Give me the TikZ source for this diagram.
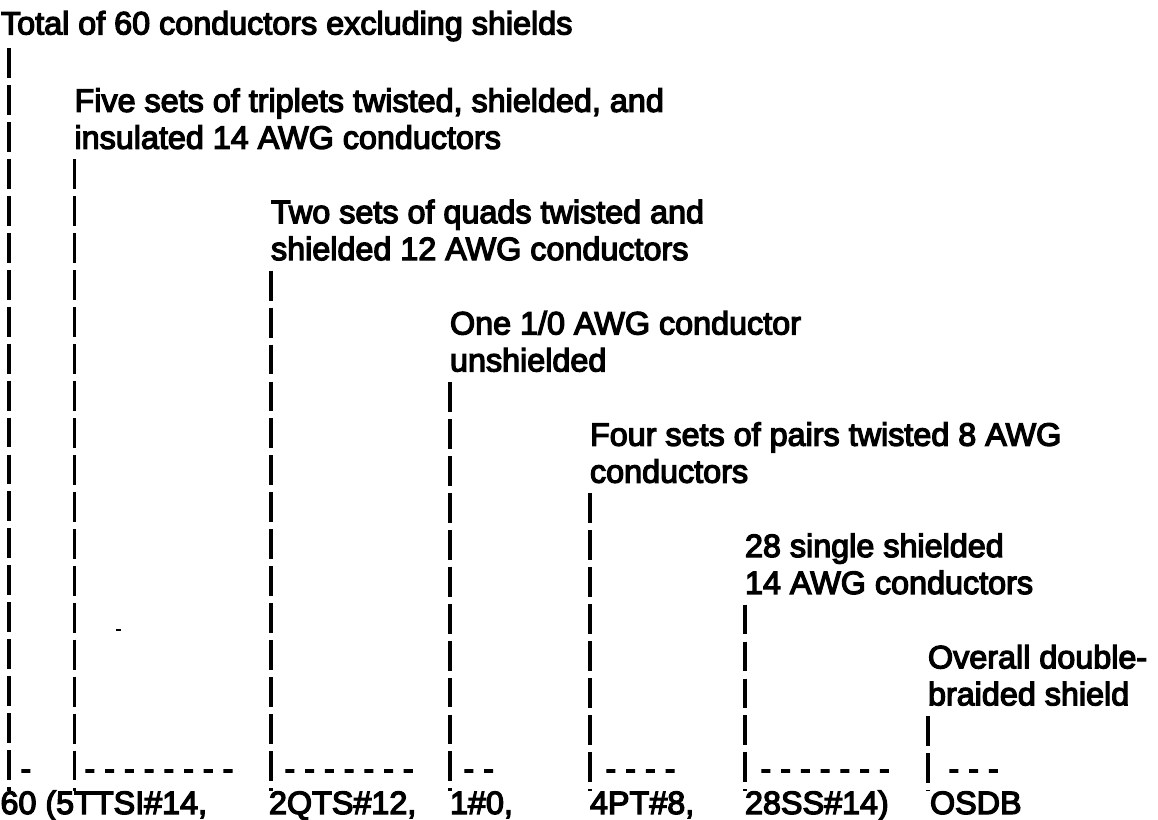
\documentclass[tikz,border=0pt]{standalone}
\usepackage{fontspec}
\setmainfont{Liberation Sans}
\newfontfamily\scanfont{Liberation Sans}[FakeBold=4]
\newcommand{\lblfont}{\scanfont\fontsize{18.4}{21.03}\selectfont}
\newcommand{\rowy}[1]{26+37.1*(#1)}
\begin{document}
\begin{tikzpicture}[x=0.02cm,y=-0.02cm,
	lbl/.style={anchor=north west,inner sep=0,outer sep=0,align=left,font=\lblfont},
	codetxt/.style={anchor=base west,inner sep=0,outer sep=0,font=\lblfont},
	stack/.style={line width=2.1pt,dash pattern=on 17pt off 4.03pt}]
		\useasboundingbox (0,0) rectangle (1158,820);
		% labels
		\node[lbl] (tot) at (1,{\rowy{0}-15}) {Total of 60 conductors excluding shields};
		\node[lbl] (tri) at (74.5,{\rowy{2}-11.8}) {Five sets of triplets twisted, shielded, and\\insulated 14 AWG conductors};
		\node[lbl] (quad) at (271,{\rowy{5}-11.8}) {Two sets of quads twisted and\\shielded 12 AWG conductors};
		\node[lbl] (one) at (450,{\rowy{8}-11.8}) {One 1/0 AWG conductor\\unshielded};
		\node[lbl] (pair) at (590,{\rowy{11}-11.8}) {Four sets of pairs twisted 8 AWG\\conductors};
		\node[lbl] (sngl) at (745,{\rowy{14}-11.8}) {28 single shielded\\14 AWG conductors};
		\node[lbl] (osdb) at (928,{\rowy{17}-11.8}) {Overall double-\\braided shield};
		% codes
		\node[codetxt] (c1) at (0.5,814) {60 (5TTSI\#14,};
		\node[codetxt] (c3) at (269,814) {2QTS\#12,};
		\node[codetxt] (c4) at (450,814) {1\#0,};
		\node[codetxt] (c5) at (590,814) {4PT\#8,};
		\node[codetxt] (c6) at (745,814) {28SS\#14)};
		\node[codetxt] (c7) at (930,814) {OSDB};
		% dashes
		\node[codetxt] (d1) at (20.5,{\rowy{20}+11.5}) {-};
		\node[codetxt] (d2) at (84.5,{\rowy{20}+11.5}) {- - - - - - - -};
		\node[codetxt] (d3) at (284.5,{\rowy{20}+11.5}) {- - - - - - -};
		\node[codetxt] (d4) at (463.5,{\rowy{20}+11.5}) {- -};
		\node[codetxt] (d5) at (605.5,{\rowy{20}+11.5}) {- - - -};
		\node[codetxt] (d6) at (760.5,{\rowy{20}+11.5}) {- - - - - - -};
		\node[codetxt] (d7) at (948.5,{\rowy{20}+11.5}) {- - -};
		% stacked bars
		\draw[stack] (9,{\rowy{1}-15}) -- (9,0 |- c1.north);
		\draw[stack] (tri.west |- 0,{\rowy{4}-15}) -- (tri.west |- c1.north);
		\draw[stack] (quad.west |- 0,{\rowy{7}-15}) -- (quad.west |- c3.north);
		\draw[stack] (one.west |- 0,{\rowy{10}-15}) -- (one.west |- c4.north);
		\draw[stack] (pair.west |- 0,{\rowy{13}-15}) -- (pair.west |- c5.north);
		\draw[stack] (sngl.west |- 0,{\rowy{16}-15}) -- (sngl.west |- c6.north);
		\draw[stack] (osdb.west |- 0,{\rowy{19}-15}) -- (osdb.west |- c7.north);
		\draw[line width=1.2pt] (116,630) -- (121,630);
	\end{tikzpicture}
\end{document}
